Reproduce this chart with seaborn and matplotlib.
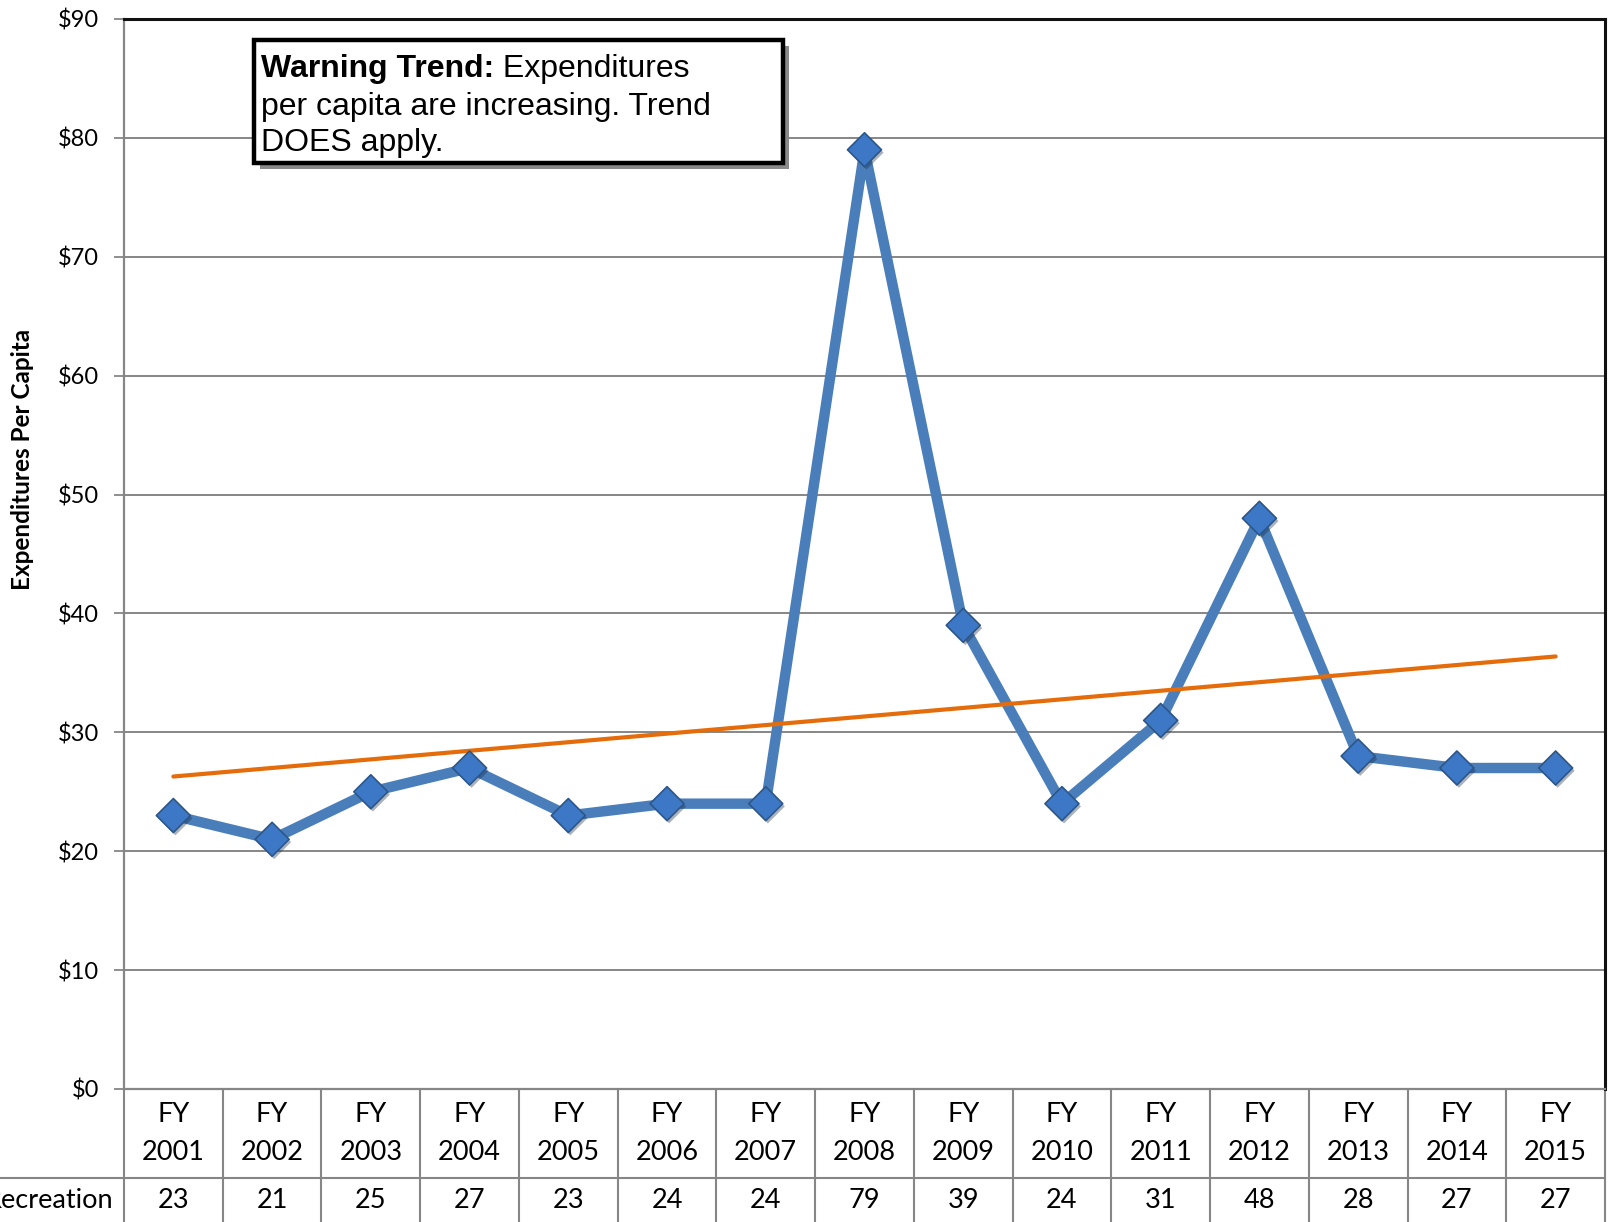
import numpy as np
import pandas as pd
import matplotlib
matplotlib.use("Agg")
import matplotlib.pyplot as plt
import matplotlib.patheffects as pe
from matplotlib.patches import Rectangle
import seaborn as sns

# Expenditures per capita, parks & recreation
years = ["2001", "2002", "2003", "2004", "2005", "2006", "2007", "2008",
         "2009", "2010", "2011", "2012", "2013", "2014", "2015"]
recreation = [23, 21, 25, 27, 23, 24, 24, 79, 39, 24, 31, 48, 28, 27, 27]
y_ticks = [0, 10, 20, 30, 40, 50, 60, 70, 80, 90]
row_label = "Recreation"

sns.set_theme(style="white")
plt.rcParams["font.family"] = ["Lato", "DejaVu Sans"]
plt.rcParams["text.color"] = "black"

df = pd.DataFrame({"pos": np.arange(len(years)), "value": recreation})

W, H = 1616, 1222
fig = plt.figure(figsize=(W / 100, H / 100), dpi=100)
ax_l, ax_r, ax_t, ax_b = 124, 1605, 19, 1089
ax = fig.add_axes([ax_l / W, 1 - ax_b / H, (ax_r - ax_l) / W, (ax_b - ax_t) / H])
ax_h = ax_b - ax_t

grid_c = "#868686"
blue = "#4a7ebb"
orange = "#e46c0a"

# data line
sns.lineplot(data=df, x="pos", y="value", ax=ax, color=blue, lw=7.5,
             zorder=3, solid_joinstyle="round")
# linear trend
sns.regplot(data=df, x="pos", y="value", ax=ax, scatter=False, ci=None,
            truncate=True, color=orange, line_kws={"lw": 3.0, "zorder": 4,
                                                   "solid_capstyle": "round"})
# diamond markers
sns.scatterplot(data=df, x="pos", y="value", ax=ax, marker="D", s=300,
                color="#3d78c6", edgecolor="#2d5688", linewidth=1.2, zorder=5,
                legend=False)
for coll in ax.collections:
    coll.set_path_effects([pe.SimplePatchShadow(offset=(1.5, -2), alpha=0.35),
                           pe.Normal()])

ax.set_xlim(-0.5, len(years) - 0.5)
ax.set_ylim(0, 90)
ax.set_yticks(y_ticks)
ax.set_yticklabels([f"${v}" for v in y_ticks], fontsize=17, color="black")
ax.set_xticks([])
ax.set_xlabel("")
ax.tick_params(axis="y", which="both", left=True, length=7, width=1.3,
               color=grid_c, pad=11, direction="out")
ax.grid(axis="y", color=grid_c, lw=1.4)
ax.grid(axis="x", visible=False)
ax.set_axisbelow(True)

for side in ("left", "bottom"):
    ax.spines[side].set_color(grid_c)
    ax.spines[side].set_linewidth(1.6)
for side in ("top", "right"):
    ax.spines[side].set_color("#111111")
    ax.spines[side].set_linewidth(2.2)

ax.set_ylabel("Expenditures Per Capita", fontsize=17.5, fontweight="bold",
              color="black")
ax.yaxis.set_label_coords((22.7 - ax_l) / (ax_r - ax_l), (ax_b - 459) / ax_h)
ax.yaxis.label.set_verticalalignment("center")

# data table below the axes
trans = ax.get_xaxis_transform()
def ay(py):
    return (ax_b - py) / ax_h

bottom_y = ay(H + 5)
sep_y = ay(1178)
for i in range(len(years) + 1):
    ax.plot([i - 0.5, i - 0.5], [0, bottom_y], transform=trans, color=grid_c,
            lw=1.5, clip_on=False, zorder=1)
ax.plot([(0 - ax_l) / (ax_r - ax_l), 1], [sep_y, sep_y], transform=ax.transAxes,
        color=grid_c, lw=1.5, clip_on=False, zorder=1)

for i, (yr, v) in enumerate(zip(years, recreation)):
    ax.text(i, ay(1114), "FY", transform=trans, ha="center", va="center",
            fontsize=19.5, color="black")
    ax.text(i, ay(1152), yr, transform=trans, ha="center", va="center",
            fontsize=19.5, color="black")
    ax.text(i, ay(1201), f"{v}", transform=trans, ha="center", va="center",
            fontsize=19.5, color="black")
ax.text((113 - ax_l) / (ax_r - ax_l), ay(1201), row_label, transform=ax.transAxes,
        ha="right", va="center", fontsize=19.5, color="black")

# annotation box
bx0, bx1, by0, by1 = 253.5, 783, 40, 163
fig.patches.append(Rectangle(((bx0 + 6) / W, 1 - (by1 + 6) / H), (bx1 - bx0) / W,
                             (by1 - by0) / H, transform=fig.transFigure,
                             facecolor="#8a8a8a", edgecolor="none", zorder=8))
fig.patches.append(Rectangle((bx0 / W, 1 - by1 / H), (bx1 - bx0) / W,
                             (by1 - by0) / H, transform=fig.transFigure,
                             facecolor="white", edgecolor="black", lw=3.2,
                             zorder=9))
box_font = ["Liberation Sans", "DejaVu Sans"]
fs_box = 23
tx = 261 / W
t1 = fig.text(tx, 1 - 77.5 / H, "Warning Trend:", fontsize=fs_box, fontweight="bold",
              family=box_font, ha="left", va="baseline", zorder=10, color="black")
fig.canvas.draw()
ext = t1.get_window_extent(renderer=fig.canvas.get_renderer())
fig.text(ext.x1 / W, 1 - 77.5 / H, " Expenditures", fontsize=fs_box,
         family=box_font, ha="left", va="baseline", zorder=10, color="black")
fig.text(tx, 1 - 114.5 / H, "per capita are increasing. Trend", fontsize=fs_box,
         family=box_font, ha="left", va="baseline", zorder=10, color="black")
fig.text(tx, 1 - 150.5 / H, "DOES apply.", fontsize=fs_box,
         family=box_font, ha="left", va="baseline", zorder=10, color="black")

fig.savefig("out.png", dpi=100)
